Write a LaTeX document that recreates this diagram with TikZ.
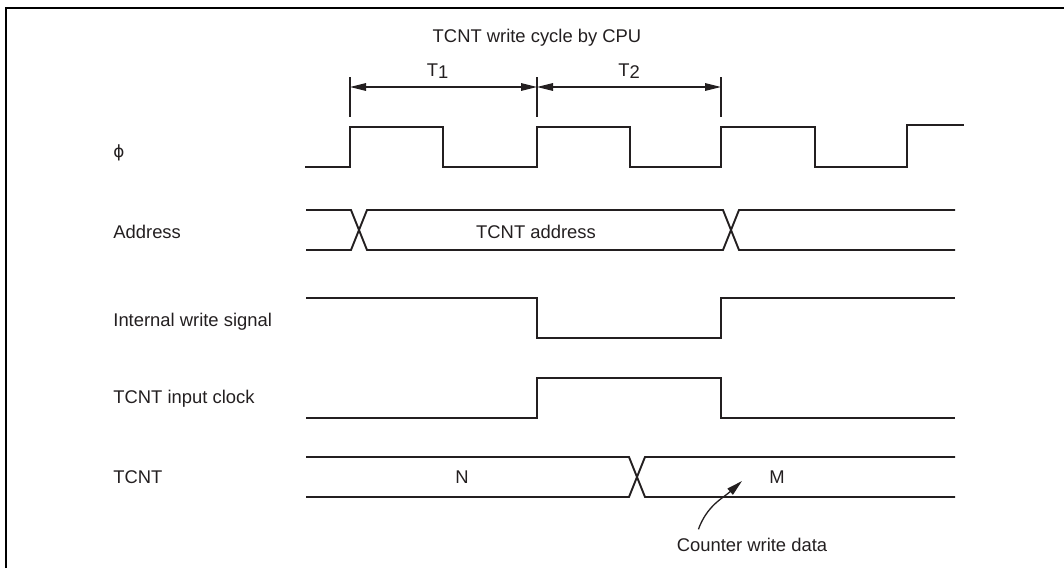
\documentclass[tikz,border=0pt]{standalone}
\usepackage{fontspec}
\setmainfont{Liberation Sans}
\newfontfamily\greekfont{DejaVu Sans}
\usetikzlibrary{arrows.meta, positioning, calc}
\definecolor{ink}{RGB}{35,31,32}

\begin{document}
\begin{tikzpicture}[
  x=0.5pt, y=-0.5pt,
  font=\fontsize{9.2}{11}\selectfont,
  txt/.style={inner sep=0pt, anchor=base, text=ink},
  lbl/.style={txt, anchor=base west},
  clkwave/.style={line width=1.3pt, draw=ink, line join=miter},
  wave/.style={line width=0.95pt, draw=ink, line join=miter},
  dimline/.style={line width=0.65pt, draw=ink},
  dimarr/.style={dimline, {Triangle[length=8pt,width=3.8pt]}-{Triangle[length=8pt,width=3.8pt]}},
  callarr/.style={line width=0.65pt, draw=ink, -{Triangle[length=8pt,width=4pt]}}
]
\useasboundingbox (0,0) rectangle (1064,568);
% frame (top and left only)
\draw[line width=1.2pt, black] (6,568) -- (6,8) -- (1064,8);

% labels
\node[lbl] (lphi) at (113,157) {\greekfont\fontsize{8.4}{10}\selectfont ϕ};
\node[lbl] (laddr) at (113,238) {Address};
\node[lbl] (lwr) at (113,326) {Internal write signal};
\node[lbl] (lclk) at (113,403) {TCNT input clock};
\node[lbl] (ltcnt) at (113,483) {TCNT};

% write cycle dimensions
\node[txt] (title) at (537,42) {TCNT write cycle by CPU};
\coordinate (t0) at (350,77);
\coordinate (t1) at (537,77);
\coordinate (t2) at (721,77);
\foreach \c in {t0,t1,t2}
  \draw[dimline] (\c) -- ++(0,40);
\draw[dimarr] ($(t0)+(0,10)$) -- node[txt, above=4pt, xshift=-3pt] (tone) {T\raisebox{-1pt}{1}} ($(t1)+(0,10)$);
\draw[dimarr] ($(t1)+(0,10)$) -- node[txt, above=4pt] (ttwo) {T\raisebox{-1pt}{2}} ($(t2)+(0,10)$);

% phi
\draw[clkwave] (305,167) -- (350,167) -- (350,127) -- (443,127) -- (443,167)
  -- (537,167) -- (537,127) -- (630,127) -- (630,167) -- (721,167) -- (721,127)
  -- (815,127) -- (815,167) -- (907,167) -- (907,125) -- (964,125);

% address bus
\draw[wave] (306,210) -- (351,210) -- (367,250) -- (723,250) -- (739,210) -- (955,210);
\draw[wave] (306,250) -- (351,250) -- (367,210) -- (723,210) -- (739,250) -- (955,250);
\node[txt] (addr) at (536,238) {TCNT address};

% internal write signal
\draw[wave] (306,298) -- (537,298) -- (537,338) -- (721,338) -- (721,298) -- (955,298);

% TCNT input clock
\draw[wave] (306,418) -- (537,418) -- (537,378) -- (721,378) -- (721,418) -- (955,418);

% TCNT
\draw[wave] (306,457) -- (629,457) -- (645,497) -- (955,497);
\draw[wave] (306,497) -- (629,497) -- (645,457) -- (955,457);
\node[txt] (valn) at (462,483) {N};
\node[txt] (valm) at (777,483) {M};

% counter write data callout
\node[txt] (cwdata) at (752,551) {Counter write data};
\coordinate (cwtip) at (742,481);
\draw[callarr] ($(cwdata.north west)+(22,-8)$) to[out=70, in=222] (cwtip);
\end{tikzpicture}
\end{document}
